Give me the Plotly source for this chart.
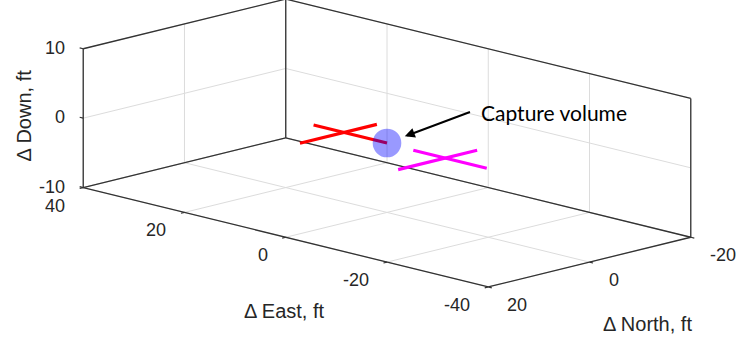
import numpy as np
import plotly.graph_objects as go

# Axis ranges and ticks (ft)
east_range = [-40, 40]
north_range = [-20, 20]
down_range = [-10, 10]
east_ticks = [-40, -20, 0, 20, 40]
north_ticks = [-20, 0, 20]
down_ticks = [-10, 0, 10]

# Red pass: a line along East ending at the capture point, crossed by a line along North
red_east = [0.0, 14.5, None, 8.5, 8.5]
red_north = [0.0, 0.0, None, -6.5, 8.7]
red_down = [0.0, 0.0, None, 0.0, 0.0]

# Magenta pass on the other side of the capture point
mag_east = [-5.5, -20.0, None, -11.8, -11.8]
mag_north = [0.3, 0.3, None, -6.0, 9.6]
mag_down = [0.0, 0.0, None, 0.0, 0.0]

# Capture volume: sphere centred on the origin
capture_center = [0.0, 0.0, 0.0]
capture_radius = 2.0

# Orthographic view (azimuth / elevation in degrees), equal data aspect
AZ, EL = -135.0, 14.2
PX_PER_FT = 7.16
W, H = 737, 341
ORIGIN_PX = (387.0, 143.0)

FONT = "Liberation Sans, Arial, sans-serif"
TXT = "#262626"
EDGE = "#333333"
GRID = "#dcdcdc"


def project(e, n, z):
    """Map (east, north, down-axis) points to 2-D view coordinates."""
    a, el = np.radians(AZ), np.radians(EL)
    xs, ys = [], []
    for ei, ni, zi in zip(e, n, z):
        if ei is None:
            xs.append(None)
            ys.append(None)
            continue
        xs.append(np.cos(a) * ei + np.sin(a) * ni)
        ys.append(-np.sin(el) * np.sin(a) * ei + np.sin(el) * np.cos(a) * ni + np.cos(el) * zi)
    return xs, ys


def segments(pairs):
    e, n, z = [], [], []
    for p, q in pairs:
        e += [p[0], q[0], None]
        n += [p[1], q[1], None]
        z += [p[2], q[2], None]
    return project(e, n, z)


e0, e1 = east_range
n0, n1 = north_range
z0, z1 = down_range

# Grid on the floor and on the two back walls (east = max, north = min)
grid = []
for e in east_ticks:
    grid.append(((e, n0, z0), (e, n1, z0)))
    grid.append(((e, n0, z0), (e, n0, z1)))
for n in north_ticks:
    grid.append(((e0, n, z0), (e1, n, z0)))
    grid.append(((e1, n, z0), (e1, n, z1)))
for z in down_ticks:
    grid.append(((e1, n0, z), (e1, n1, z)))
    grid.append(((e0, n0, z), (e1, n0, z)))

# Box edges, leaving out the three that meet at the front-top corner
front_top = (e0, n1, z1)
corners = [(e, n, z) for e in (e0, e1) for n in (n0, n1) for z in (z0, z1)]
edges = []
for i, p in enumerate(corners):
    for q in corners[i + 1:]:
        if sum(a != b for a, b in zip(p, q)) == 1 and front_top not in (p, q):
            edges.append((p, q))

# Tick marks: East ticks point +north, North ticks point -east, vertical ticks point +east
TL = 0.7
ticks = []
for e in east_ticks:
    ticks.append(((e, n1, z0), (e, n1 + TL, z0)))
for n in north_ticks:
    ticks.append(((e0, n, z0), (e0 - TL, n, z0)))
for z in down_ticks:
    ticks.append(((e1, n1, z), (e1 + TL, n1, z)))

fig = go.Figure()


def add_lines(xy, color, width):
    fig.add_trace(go.Scatter(x=xy[0], y=xy[1], mode="lines", line=dict(color=color, width=width),
                             hoverinfo="skip", showlegend=False))


add_lines(segments(grid), GRID, 1)
add_lines(segments(edges), EDGE, 1.3)
add_lines(segments(ticks), EDGE, 1.2)
add_lines(project(red_east, red_north, red_down), "#ff0000", 3.2)
add_lines(project(mag_east, mag_north, mag_down), "#ff00ff", 3.2)

# Capture volume drawn as its orthographic silhouette
cx, cy = project([capture_center[0]], [capture_center[1]], [capture_center[2]])
shapes = [dict(type="circle", xref="x", yref="y", layer="above",
               x0=cx[0] - capture_radius, x1=cx[0] + capture_radius,
               y0=cy[0] - capture_radius, y1=cy[0] + capture_radius,
               fillcolor="rgba(0,0,255,0.4)", line=dict(width=0))]

annotations = []
tick_font = dict(family=FONT, size=18, color=TXT)
px, py = project(east_ticks, [n1] * len(east_ticks), [z0] * len(east_ticks))
for t, x, y in zip(east_ticks, px, py):
    annotations.append(dict(x=x, y=y, text=str(t), showarrow=False, xanchor="right",
                            yanchor="middle", xshift=-16, yshift=-18, font=tick_font))
px, py = project([e0] * len(north_ticks), north_ticks, [z0] * len(north_ticks))
for t, x, y in zip(north_ticks, px, py):
    annotations.append(dict(x=x, y=y, text=str(t), showarrow=False, xanchor="left",
                            yanchor="middle", xshift=17, yshift=-18, font=tick_font))
px, py = project([e1] * len(down_ticks), [n1] * len(down_ticks), down_ticks)
for t, x, y in zip(down_ticks, px, py):
    annotations.append(dict(x=x, y=y, text=str(t), showarrow=False, xanchor="right",
                            yanchor="middle", xshift=-16, yshift=1, font=tick_font))

title_font = dict(family=FONT, size=20, color=TXT)
mx, my = project([0], [n1], [z0])
annotations.append(dict(x=mx[0], y=my[0], text="Δ East, ft", showarrow=False,
                        xshift=-1, yshift=-74, font=title_font))
mx, my = project([e0], [0], [z0])
annotations.append(dict(x=mx[0], y=my[0], text="Δ North, ft", showarrow=False,
                        xshift=58, yshift=-62, font=title_font))
mx, my = project([e1], [n1], [0])
annotations.append(dict(x=mx[0], y=my[0], text="Δ Down, ft", showarrow=False, textangle=-90,
                        xshift=-59, yshift=3, font=title_font))

annotations.append(dict(x=cx[0], y=cy[0], text="Capture volume", showarrow=True,
                        ax=83, ay=-31, xanchor="left", yanchor="middle", borderpad=10,
                        arrowhead=2, arrowsize=1, arrowwidth=2, arrowcolor="black",
                        standoff=19, font=dict(family="Lato", size=21, color="black")))

x_lo = -ORIGIN_PX[0] / PX_PER_FT
y_hi = ORIGIN_PX[1] / PX_PER_FT
fig.update_layout(
    width=W, height=H, margin=dict(l=0, r=0, t=0, b=0),
    paper_bgcolor="white", plot_bgcolor="white",
    xaxis=dict(range=[x_lo, x_lo + W / PX_PER_FT], visible=False, fixedrange=True),
    yaxis=dict(range=[y_hi - H / PX_PER_FT, y_hi], visible=False, fixedrange=True),
    shapes=shapes, annotations=annotations,
)

fig.write_html("out.html", config={"displayModeBar": False, "staticPlot": True})
